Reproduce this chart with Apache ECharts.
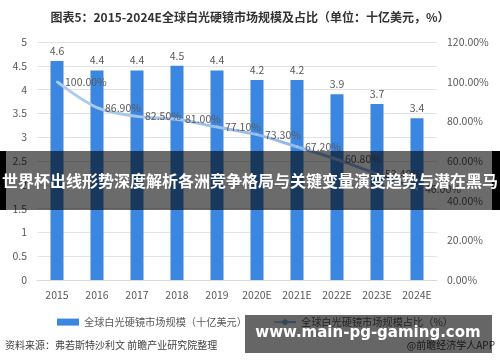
<!DOCTYPE html>
<html><head><meta charset="utf-8">
<script src="https://cdn.jsdelivr.net/npm/echarts@6/dist/echarts.min.js"></script>
<style>html,body{margin:0;padding:0;background:#fff}#c{width:500px;height:362px}</style>
</head><body><div id="c"></div>
<script>
const categories = ['2015','2016','2017','2018','2019','2020E','2021E','2022E','2023E','2024E'];
const marketSize = [4.6, 4.4, 4.4, 4.5, 4.4, 4.2, 4.2, 3.9, 3.7, 3.4];
const marketShare = [100.0, 86.9, 82.5, 81.0, 77.1, 73.3, 67.2, 60.8, 53.4, 46.0];
const titleText = '图表5：2015-2024E全球白光硬镜市场规模及占比（单位：十亿美元，%）';
const barName = '全球白光硬镜市场规模（十亿美元）';
const lineName = '全球白光硬镜市场规模占比（%）';
const sourceText = '资料来源：弗若斯特沙利文 前瞻产业研究院整理';
const brandText = '@前瞻经济学人APP';
const bannerText = '世界杯出线形势深度解析各洲竞争格局与关键变量演变趋势与潜在黑马';
const urlText = 'www.main-pg-gaming.com';

const font = '"Noto Sans CJK SC","Microsoft YaHei",sans-serif';
const lineColor = new echarts.graphic.LinearGradient(0, 0, 1, 0, [
  {offset: 0, color: '#b0cdf0'}, {offset: 1, color: '#86afe6'}]);
const chart = echarts.init(document.getElementById('c'));
chart.setOption({
  animation: false,
  textStyle: {fontFamily: font},
  title: {text: titleText, left: 'center', top: 6,
    textStyle: {fontSize: 12, fontWeight: 'bold', color: '#333', fontFamily: font}},
  grid: {left: 37, right: 63, top: 42, bottom: 82},
  legend: {
    top: 312, left: 52, itemGap: 26, itemWidth: 22, itemHeight: 7,
    textStyle: {fontSize: 10.2, color: '#595959', fontFamily: font},
    data: [{name: barName, icon: 'rect'}, {name: lineName, itemStyle: {color: '#86afe6'}}]
  },
  xAxis: {type: 'category', data: categories,
    axisLine: {lineStyle: {color: '#d9d9d9'}}, axisTick: {show: false},
    axisLabel: {color: '#595959', fontSize: 10.5, margin: 10}},
  yAxis: [
    {type: 'value', min: 0, max: 5, interval: 0.5,
      axisLabel: {color: '#595959', fontSize: 10.5, margin: 10},
      axisLine: {show: false}, axisTick: {show: false},
      splitLine: {lineStyle: {color: '#e3e3e3'}}},
    {type: 'value', min: 0, max: 120, interval: 20, position: 'right',
      axisLabel: {color: '#595959', fontSize: 10.5, margin: 10, formatter: v => v.toFixed(2) + '%'},
      axisLine: {show: false}, axisTick: {show: false}, splitLine: {show: false}}
  ],
  series: [
    {name: barName, type: 'bar', data: marketSize, barWidth: 13,
      itemStyle: {color: '#3B86E0'},
      label: {show: true, position: 'top', color: '#595959', fontSize: 10.5, distance: 5}},
    {name: lineName, type: 'line', yAxisIndex: 1, data: marketShare, smooth: 0.3,
      symbol: 'circle', symbolSize: 2, showSymbol: true,
      lineStyle: {width: 3, color: lineColor}, itemStyle: {color: '#a7c8ee'},
      z: 5,
      label: {show: true, position: 'right', color: '#595959', fontSize: 10.5, distance: 7,
        formatter: p => p.value.toFixed(2) + '%'},
      labelLayout: {hideOverlap: false}}
  ],
  graphic: [
    {type: 'text', left: 5, top: 340, style: {text: sourceText, fontSize: 10, fill: '#404040', fontFamily: font}},
    {type: 'text', right: 5, top: 340, style: {text: brandText, fontSize: 10, fill: '#404040', fontFamily: font}},
    {type: 'rect', shape: {x: 0, y: 151, width: 500, height: 59}, style: {fill: 'rgba(0,0,0,0.58)'}, z: 100},
    {type: 'rect', shape: {x: 0, y: 151, width: 6, height: 59}, style: {fill: '#000'}, z: 100},
    {type: 'rect', shape: {x: 492, y: 151, width: 8, height: 59}, style: {fill: '#000'}, z: 100},
    {type: 'text', x: 250, y: 181, z: 101, style: {text: bannerText, fontSize: 16, fontWeight: 'bold',
      fill: '#fff', align: 'center', verticalAlign: 'middle', fontFamily: font}},
    {type: 'rect', shape: {x: 245, y: 315, width: 247, height: 38}, style: {fill: 'rgba(0,0,0,0.6)'}, z: 100},
    {type: 'text', x: 368, y: 333, z: 101, style: {text: urlText, fontSize: 15, fontWeight: 'bold',
      fill: '#fff', align: 'center', verticalAlign: 'middle', fontFamily: '"DejaVu Sans",sans-serif'}}
  ]
});
</script></body></html>
